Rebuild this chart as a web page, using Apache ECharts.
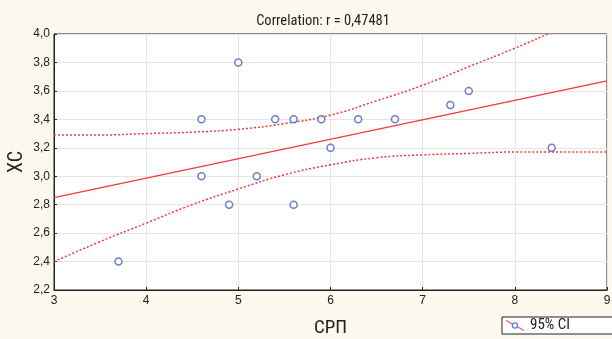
<!DOCTYPE html>
<html>
<head>
<meta charset="utf-8">
<script src="https://cdn.jsdelivr.net/npm/echarts@6/dist/echarts.min.js"></script>
<style>
html,body{margin:0;padding:0;background:#fbf8ee;}
#c{width:612px;height:339px;}
</style>
</head>
<body>
<div id="c"></div>
<script>
// Data
const srp = [3.7, 4.6, 4.6, 4.9, 5.0, 5.2, 5.4, 5.6, 5.6, 5.9, 6.0, 6.3, 6.7, 7.3, 7.5, 8.4];
const xc  = [2.4, 3.4, 3.0, 2.8, 3.8, 3.0, 3.4, 3.4, 2.8, 3.4, 3.2, 3.4, 3.4, 3.5, 3.6, 3.2];
// regression line end points
const fitX = [3, 9];
const fitY = [2.85, 3.67];
// 95% confidence band, read at these x positions
const ciX     = [3, 3.5, 4, 4.5, 5, 5.5, 6, 6.5, 7, 7.5, 8, 8.5, 9];
const ciUpper = [3.29, 3.29, 3.30, 3.31, 3.33, 3.37, 3.43, 3.53, 3.64, 3.77, 3.90, 4.04, 4.17];
const ciLower = [2.40, 2.54, 2.67, 2.80, 2.91, 3.01, 3.08, 3.13, 3.15, 3.16, 3.17, 3.17, 3.17];
const xTicks = [3, 4, 5, 6, 7, 8, 9];
const yTicks = [2.2, 2.4, 2.6, 2.8, 3.0, 3.2, 3.4, 3.6, 3.8, 4.0];
const titleText = 'Correlation: r = 0,47481';
const xName = 'СРП';
const yName = 'ХС';
const legendName = '95% CI';

const zip = (a, b) => a.map((v, i) => [v, b[i]]);
const red = '#f23a3a';
const blue = '#4a5cbf';
const narrow = "'Liberation Sans Narrow', 'Arial Narrow', 'Roboto Condensed', 'Liberation Sans', sans-serif";

const iconSvg = 'data:image/svg+xml;utf8,' + encodeURIComponent(
  '<svg xmlns="http://www.w3.org/2000/svg" width="20" height="12"><line x1="1" y1="1" x2="19" y2="11" stroke="' + red + '" stroke-width="1.3"/><circle cx="10" cy="6" r="2.6" fill="white" stroke="' + blue + '" stroke-width="1.4"/></svg>');

const chart = echarts.init(document.getElementById('c'), null, {renderer: 'canvas'});
chart.setOption({
  backgroundColor: '#fbf8ee',
  animation: false,
  title: {
    text: titleText,
    left: 318, top: 9, textAlign: 'center',
    textStyle: {fontFamily: narrow, fontSize: 14.5, fontWeight: 'normal', color: '#222'}
  },
  legend: {
    data: [{name: legendName, icon: 'image://' + iconSvg}],
    left: 502, top: 317,
    itemWidth: 20, itemHeight: 12, itemGap: 5,
    borderColor: '#222', borderWidth: 1, borderRadius: 0,
    padding: [1, 60, 1, 3],
    backgroundColor: '#fff',
    textStyle: {fontFamily: narrow, fontSize: 15, color: '#222'},
    selectedMode: false
  },
  grid: {left: 54, right: 5, top: 34, bottom: 49, containLabel: false, outerBoundsMode: 'none',
         show: true, backgroundColor: '#fff', borderColor: '#222', borderWidth: 1},
  xAxis: {
    type: 'value', min: 3, max: 9, interval: 1,
    name: xName, nameLocation: 'middle', nameGap: 29, nameMoveOverlap: false,
    nameTextStyle: {fontFamily: narrow, fontSize: 19, color: '#222'},
    axisLine: {show: true, lineStyle: {color: '#222', width: 1}},
    axisTick: {show: true, inside: true, length: 3, lineStyle: {color: '#222'}},
    axisLabel: {fontFamily: "'Liberation Sans', Arial, sans-serif", fontSize: 12, color: '#222', margin: 5},
    splitLine: {show: true, lineStyle: {color: '#e6e6e6', width: 1}}
  },
  yAxis: {
    type: 'value', min: 2.2, max: 4.0, interval: 0.2,
    name: yName, nameLocation: 'middle', nameGap: 27, nameRotate: 90, nameMoveOverlap: false,
    nameTextStyle: {fontFamily: narrow, fontSize: 20, color: '#222'},
    axisLine: {show: true, lineStyle: {color: '#222', width: 1}},
    axisTick: {show: true, inside: true, length: 3, lineStyle: {color: '#222'}},
    axisLabel: {
      fontFamily: "'Liberation Sans', Arial, sans-serif", fontSize: 12, color: '#222', margin: 4,
      formatter: v => v.toFixed(1).replace('.', ',')
    },
    splitLine: {show: true, lineStyle: {color: '#e6e6e6', width: 1}}
  },
  series: [
    {
      type: 'line', name: 'fit', data: zip(fitX, fitY), showSymbol: false, silent: true,
      lineStyle: {color: red, width: 1.3}, z: 3
    },
    {
      type: 'line', name: 'upper', data: zip(ciX, ciUpper), smooth: true, showSymbol: false, silent: true,
      lineStyle: {color: red, width: 1.5, type: [2, 2]}, clip: true, z: 3
    },
    {
      type: 'line', name: 'lower', data: zip(ciX, ciLower), smooth: true, showSymbol: false, silent: true,
      lineStyle: {color: red, width: 1.5, type: [2, 2]}, clip: true, z: 3
    },
    {
      type: 'scatter', name: legendName, data: zip(srp, xc),
      symbol: 'circle', symbolSize: 7,
      itemStyle: {color: '#fff', borderColor: blue, borderWidth: 1.5}, z: 5
    }
  ]
});
</script>
</body>
</html>
